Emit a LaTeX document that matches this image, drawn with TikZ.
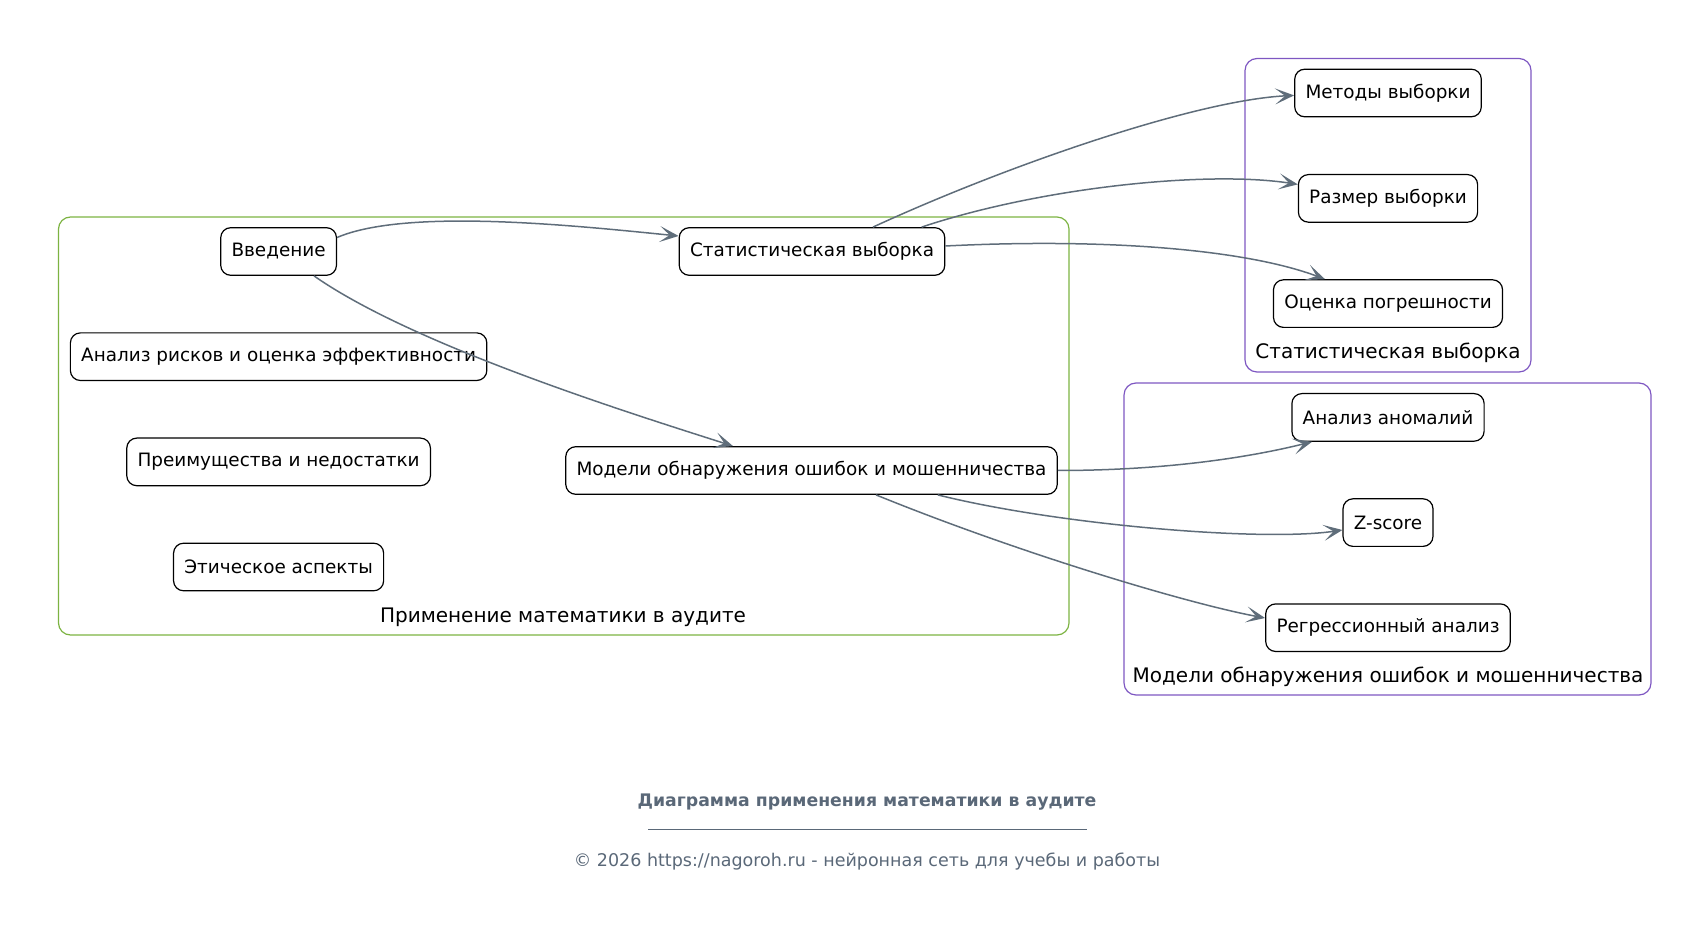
\documentclass[tikz,border=0pt]{standalone}
\usepackage{fontspec}
\setmainfont{DejaVu Sans}
\usetikzlibrary{arrows.meta,calc}

\definecolor{groupgreen}{HTML}{7CB342}
\definecolor{grouppurple}{HTML}{7E57C2}
\definecolor{edgegray}{HTML}{5F6D7A}
\definecolor{titlegray}{HTML}{5A6878}

\tikzset{
  topic/.style={draw=black, line width=0.6pt, rounded corners=5pt, fill=white,
    minimum height=23.8pt, inner xsep=5.4pt, font=\fontsize{9.2}{11}\selectfont},
  link/.style={draw=edgegray, line width=0.75pt,
    -{Stealth[length=9.5pt,width=8pt,inset=5pt]}},
  group/.style={line width=0.6pt, rounded corners=6pt},
  grouplabel/.style={font=\fontsize{10}{12}\selectfont}
}

\begin{document}
\begin{tikzpicture}[x=0.5pt,y=-0.5pt]
\useasboundingbox (0,0) rectangle (1700,945);

% groups
\draw[group,draw=groupgreen] (58.5,217) rectangle (1069,635);
\node[grouplabel] (g1) at (563,617) {Применение математики в аудите};
\draw[group,draw=grouppurple] (1245,58.5) rectangle (1531,372);
\node[grouplabel] (g2) at (1388,353) {Статистическая выборка};
\draw[group,draw=grouppurple] (1124,383) rectangle (1651,695);
\node[grouplabel] (g3) at (1388,677) {Модели обнаружения ошибок и мошенничества};

% main topics
\node[topic] (intro) at (278.6,251.5) {Введение};
\node[topic] (risk) at (278.6,356.7) {Анализ рисков и оценка эффективности};
\node[topic] (pros) at (278.6,461.9) {Преимущества и недостатки};
\node[topic] (ethic) at (278.6,567) {Этическое аспекты};
\node[topic] (stat) at (812,251.5) {Статистическая выборка};
\node[topic] (model) at (811.5,470.5) {Модели обнаружения ошибок и мошенничества};

% sub topics
\node[topic] (meth) at (1388,93) {Методы выборки};
\node[topic] (size) at (1388,198.4) {Размер выборки};
\node[topic] (err) at (1388,303.6) {Оценка погрешности};
\node[topic] (anom) at (1388,417.4) {Анализ аномалий};
\node[topic] (zsc) at (1388,522.6) {Z-score};
\node[topic] (regr) at (1388,627.7) {Регрессионный анализ};

% links
\draw[link] ($(intro.east)+(0,-14)$) .. controls +(70,-30) and +(-100,-10) .. ($(stat.west)+(0,-15.5)$);
\draw[link] ($(intro.south)+(35.4,0)$) .. controls +(100,70) and +(-100,-32) .. ($(model.north)+(-78.5,0)$);
\draw[link] ($(stat.north)+(61,0)$) .. controls +(130,-60) and +(-100,5) .. ($(meth.west)+(0,2.4)$);
\draw[link] ($(stat.north)+(109.6,0)$) .. controls +(120,-40) and +(-90,-14) .. ($(size.west)+(0,-14)$);
\draw[link] ($(stat.east)+(0,-5.5)$) .. controls +(160,-8) and +(-80,-30) .. ($(err.north)+(-63,0)$);
\draw[link] (model.east) .. controls +(110,0) and +(-60,15) .. ($(anom.south)+(-76,0)$);
\draw[link] ($(model.south)+(126.3,0)$) .. controls +(120,30) and +(-80,12) .. ($(zsc.west)+(0,7.4)$);
\draw[link] ($(model.south)+(64.5,0)$) .. controls +(140,57) and +(-80,-15) .. ($(regr.west)+(0,-9.7)$);

% caption
\node[font=\bfseries\fontsize{8.65}{10}\selectfont, text=titlegray] (title) at (867,802) {Диаграмма применения математики в аудите};
\coordinate (rulel) at (648,829);
\coordinate (ruler) at (1087,829);
\draw[titlegray, line width=0.5pt] (rulel) -- (ruler);
\node[font=\fontsize{8.75}{10}\selectfont, text=titlegray] (copy) at (867,862) {© 2026 https://nagoroh.ru - нейронная сеть для учебы и работы};
\end{tikzpicture}
\end{document}
